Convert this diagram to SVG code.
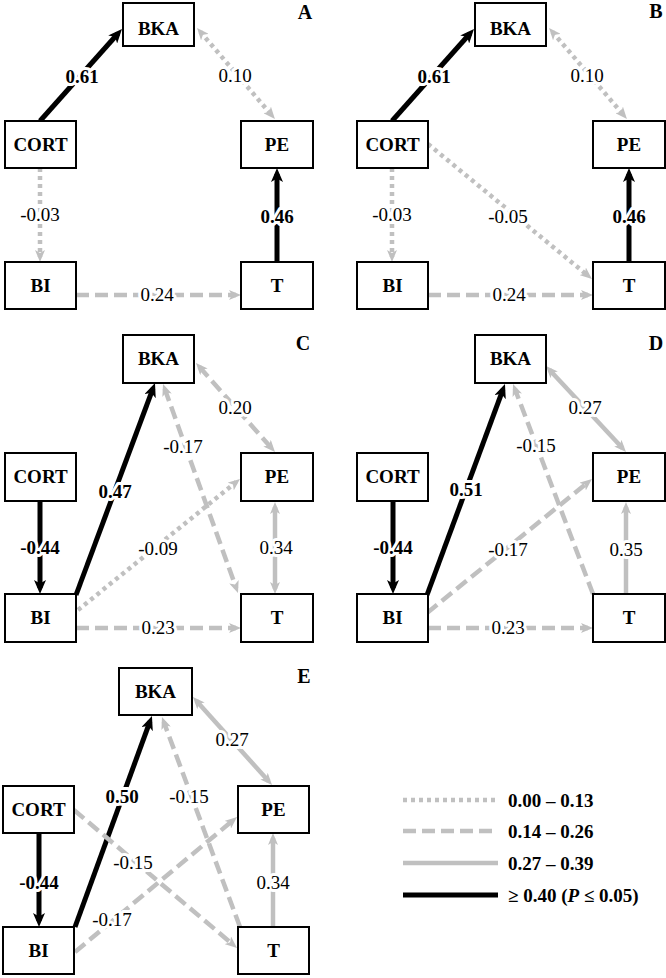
<svg xmlns="http://www.w3.org/2000/svg" width="666" height="978" viewBox="0 0 666 978">
<defs>
<style>
text{font-family:"Liberation Serif","Times New Roman","DejaVu Serif",serif;fill:#000}
.box{fill:#fff;stroke:#000;stroke-width:2}
.n{font-weight:bold;font-size:19px;text-anchor:middle}
.pl{font-weight:bold;font-size:20px;text-anchor:middle}
.l{font-size:19px;text-anchor:middle;stroke:#fff;stroke-width:6;paint-order:stroke;stroke-linejoin:round}
.lb{font-weight:bold;font-size:19px;text-anchor:middle;stroke:#fff;stroke-width:6;paint-order:stroke;stroke-linejoin:round}
.lg{font-weight:bold;font-size:19px}
.dot{stroke:#c0c0c0;stroke-width:4.5;stroke-dasharray:4 4;fill:none}
.dash{stroke:#c0c0c0;stroke-width:4.5;stroke-dasharray:13 6;fill:none}
.sol{stroke:#c0c0c0;stroke-width:4.5;fill:none}
.blk{stroke:#000;stroke-width:5;fill:none}
.ge{marker-end:url(#mg)}
.gb{marker-start:url(#mg);marker-end:url(#mg)}
.be{marker-end:url(#mb)}
</style>
<marker id="mg" viewBox="0 0 12 10" refX="7" refY="5" markerWidth="12" markerHeight="10" markerUnits="userSpaceOnUse" orient="auto-start-reverse"><path d="M0,0 L12,5 L0,10 L3,5 z" fill="#c0c0c0"/></marker>
<marker id="mb" viewBox="0 0 14 12" refX="8" refY="6" markerWidth="14" markerHeight="12" markerUnits="userSpaceOnUse" orient="auto-start-reverse"><path d="M0,0 L14,6 L0,12 L3.5,6 z" fill="#000"/></marker>
</defs>
<rect width="666" height="978" fill="#fff"/>

<g id="connectors">
<!-- A -->
<line class="blk be" x1="40" y1="121" x2="118" y2="33.5"/>
<line class="dot gb" x1="200.3" y1="31.8" x2="271.7" y2="115.2"/>
<line class="dot ge" x1="40" y1="168" x2="40" y2="257"/>
<line class="blk be" x1="277" y1="262" x2="277" y2="174"/>
<line class="dash ge" x1="76" y1="295" x2="236" y2="295"/>
<!-- B -->
<line class="blk be" x1="392" y1="121" x2="470" y2="33.5"/>
<line class="dot gb" x1="552.3" y1="31.8" x2="623.7" y2="115.2"/>
<line class="dot ge" x1="392" y1="168" x2="392" y2="257"/>
<line class="blk be" x1="629" y1="262" x2="629" y2="174"/>
<line class="dash ge" x1="428" y1="295" x2="588" y2="295"/>
<line class="dot ge" x1="428" y1="144" x2="588.1" y2="275.8"/>
<!-- C -->
<line class="blk be" x1="40" y1="501" x2="40" y2="588"/>
<line class="blk be" x1="76" y1="595" x2="152.9" y2="388.6"/>
<line class="dash gb" x1="199.3" y1="366.7" x2="271.7" y2="448.3"/>
<line class="dash gb" x1="164.7" y1="388.7" x2="236.3" y2="588.3"/>
<line class="dot ge" x1="78" y1="610" x2="236.1" y2="482.1"/>
<line class="sol gb" x1="275" y1="507" x2="275" y2="589"/>
<line class="dash ge" x1="76" y1="628" x2="236" y2="628"/>
<!-- D -->
<line class="blk be" x1="393" y1="501" x2="393" y2="588"/>
<line class="blk be" x1="427" y1="595" x2="502.9" y2="389.6"/>
<line class="sol gb" x1="549.4" y1="369.7" x2="622.6" y2="448.3"/>
<line class="dash ge" x1="593" y1="594" x2="514.8" y2="388.7"/>
<line class="dash ge" x1="427" y1="613" x2="588.1" y2="482.2"/>
<line class="sol ge" x1="626" y1="594" x2="626" y2="507"/>
<line class="dash ge" x1="428" y1="628" x2="588" y2="628"/>
<!-- E -->
<line class="blk be" x1="39" y1="833" x2="39" y2="921"/>
<line class="blk be" x1="75" y1="927" x2="149.9" y2="721.6"/>
<line class="sol gb" x1="196.3" y1="700.7" x2="268.7" y2="781.3"/>
<line class="dash ge" x1="240" y1="927" x2="163.7" y2="721.7"/>
<line class="dash ge" x1="74" y1="810" x2="233.2" y2="944.8"/>
<line class="dash ge" x1="75" y1="952" x2="233.2" y2="820.2"/>
<line class="sol ge" x1="273" y1="927" x2="273" y2="838"/>
</g>

<g id="labels">
<text class="lb" x="82" y="83">0.61</text>
<text class="l" x="235" y="82">0.10</text>
<text class="l" x="40" y="221">-0.03</text>
<text class="lb" x="277" y="223">0.46</text>
<text class="l" x="157" y="301">0.24</text>

<text class="lb" x="434" y="83">0.61</text>
<text class="l" x="587" y="82">0.10</text>
<text class="l" x="392" y="221">-0.03</text>
<text class="lb" x="629" y="223">0.46</text>
<text class="l" x="509" y="301">0.24</text>
<text class="l" x="508" y="223">-0.05</text>

<text class="lb" x="40" y="554">-0.44</text>
<text class="lb" x="115" y="498">0.47</text>
<text class="l" x="235" y="414">0.20</text>
<text class="l" x="183" y="453">-0.17</text>
<text class="l" x="158" y="555">-0.09</text>
<text class="l" x="276" y="554">0.34</text>
<text class="l" x="158" y="634">0.23</text>

<text class="lb" x="393" y="554">-0.44</text>
<text class="lb" x="466" y="496">0.51</text>
<text class="l" x="585" y="414">0.27</text>
<text class="l" x="536" y="452">-0.15</text>
<text class="l" x="508" y="556">-0.17</text>
<text class="l" x="626" y="556">0.35</text>
<text class="l" x="508" y="634">0.23</text>

<text class="lb" x="39" y="889">-0.44</text>
<text class="lb" x="122" y="803">0.50</text>
<text class="l" x="232" y="746">0.27</text>
<text class="l" x="189" y="803">-0.15</text>
<text class="l" x="133" y="869">-0.15</text>
<text class="l" x="112" y="926">-0.17</text>
<text class="l" x="273" y="889">0.34</text>
</g>

<g id="panelA">
<g id="A-BKA"><rect class="box" x="123" y="3" width="71" height="43"/><text class="n" x="158.5" y="35">BKA</text></g>
<g id="A-CORT"><rect class="box" x="5" y="121" width="71" height="47"/><text class="n" x="40.5" y="151">CORT</text></g>
<g id="A-PE"><rect class="box" x="241" y="121" width="72" height="47"/><text class="n" x="277" y="151">PE</text></g>
<g id="A-BI"><rect class="box" x="5" y="262" width="71" height="47"/><text class="n" x="40.5" y="292">BI</text></g>
<g id="A-T"><rect class="box" x="241" y="262" width="72" height="47"/><text class="n" x="277" y="292">T</text></g>
<text class="pl" x="305" y="19">A</text>
</g>

<g id="panelB">
<g id="B-BKA"><rect class="box" x="475" y="3" width="71" height="43"/><text class="n" x="510.5" y="35">BKA</text></g>
<g id="B-CORT"><rect class="box" x="357" y="121" width="71" height="47"/><text class="n" x="392.5" y="151">CORT</text></g>
<g id="B-PE"><rect class="box" x="593" y="121" width="72" height="47"/><text class="n" x="629" y="151">PE</text></g>
<g id="B-BI"><rect class="box" x="357" y="262" width="71" height="47"/><text class="n" x="392.5" y="292">BI</text></g>
<g id="B-T"><rect class="box" x="593" y="262" width="72" height="47"/><text class="n" x="629" y="292">T</text></g>
<text class="pl" x="656" y="18">B</text>
</g>

<g id="panelC">
<g id="C-BKA"><rect class="box" x="123" y="335" width="71" height="48"/><text class="n" x="158.5" y="365">BKA</text></g>
<g id="C-CORT"><rect class="box" x="5" y="453" width="71" height="48"/><text class="n" x="40.5" y="483">CORT</text></g>
<g id="C-PE"><rect class="box" x="241" y="453" width="72" height="48"/><text class="n" x="277" y="483">PE</text></g>
<g id="C-BI"><rect class="box" x="5" y="594" width="71" height="48"/><text class="n" x="40.5" y="624">BI</text></g>
<g id="C-T"><rect class="box" x="241" y="594" width="72" height="48"/><text class="n" x="277" y="624">T</text></g>
<text class="pl" x="303" y="350">C</text>
</g>

<g id="panelD">
<g id="D-BKA"><rect class="box" x="475" y="335" width="71" height="48"/><text class="n" x="510.5" y="365">BKA</text></g>
<g id="D-CORT"><rect class="box" x="357" y="453" width="71" height="48"/><text class="n" x="392.5" y="483">CORT</text></g>
<g id="D-PE"><rect class="box" x="593" y="453" width="72" height="48"/><text class="n" x="629" y="483">PE</text></g>
<g id="D-BI"><rect class="box" x="357" y="594" width="71" height="48"/><text class="n" x="392.5" y="624">BI</text></g>
<g id="D-T"><rect class="box" x="593" y="594" width="72" height="48"/><text class="n" x="629" y="624">T</text></g>
<text class="pl" x="656" y="350">D</text>
</g>

<g id="panelE">
<g id="E-BKA"><rect class="box" x="119" y="668" width="73" height="47"/><text class="n" x="155.5" y="698">BKA</text></g>
<g id="E-CORT"><rect class="box" x="3" y="786" width="71" height="47"/><text class="n" x="38.5" y="816">CORT</text></g>
<g id="E-PE"><rect class="box" x="238" y="786" width="71" height="47"/><text class="n" x="273.5" y="816">PE</text></g>
<g id="E-BI"><rect class="box" x="3" y="927" width="71" height="47"/><text class="n" x="38.5" y="957">BI</text></g>
<g id="E-T"><rect class="box" x="238" y="927" width="71" height="47"/><text class="n" x="273.5" y="957">T</text></g>
<text class="pl" x="304" y="683">E</text>
</g>

<g id="legend">
<line class="dot" x1="403" y1="800" x2="498" y2="800"/>
<line class="dash" x1="403" y1="831" x2="498" y2="831"/>
<line class="sol" x1="403" y1="863" x2="498" y2="863"/>
<line class="blk" x1="403" y1="895" x2="498" y2="895"/>
<text class="lg" x="508" y="807">0.00 – 0.13</text>
<text class="lg" x="508" y="838">0.14 – 0.26</text>
<text class="lg" x="508" y="870">0.27 – 0.39</text>
<text class="lg" x="508" y="902">≥ 0.40 (<tspan font-style="italic">P</tspan> ≤ 0.05)</text>
</g>
</svg>
